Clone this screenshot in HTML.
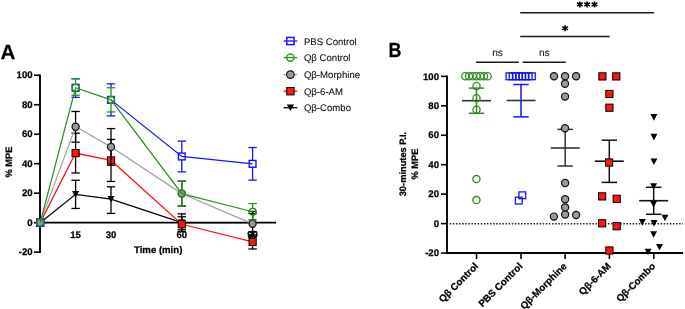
<!DOCTYPE html>
<html><head><meta charset="utf-8"><style>
html,body{margin:0;padding:0;background:#fff;}
svg{display:block;font-family:"Liberation Sans", sans-serif;will-change:transform;text-rendering:geometricPrecision;}
</style></head><body>
<svg width="685" height="309" viewBox="0 0 685 309">
<rect width="685" height="309" fill="#fff"/>
<text x="0.40" y="59.00" font-size="20.5" font-weight="bold" text-anchor="start" fill="#000" stroke="#000" stroke-width="0.25" >A</text>
<text x="32.60" y="78.45" font-size="9.6" font-weight="bold" text-anchor="end" fill="#000" stroke="#000" stroke-width="0.25" >100</text>
<text x="32.60" y="107.93" font-size="9.6" font-weight="bold" text-anchor="end" fill="#000" stroke="#000" stroke-width="0.25" >80</text>
<text x="32.60" y="137.41" font-size="9.6" font-weight="bold" text-anchor="end" fill="#000" stroke="#000" stroke-width="0.25" >60</text>
<text x="32.60" y="166.89" font-size="9.6" font-weight="bold" text-anchor="end" fill="#000" stroke="#000" stroke-width="0.25" >40</text>
<text x="32.60" y="196.37" font-size="9.6" font-weight="bold" text-anchor="end" fill="#000" stroke="#000" stroke-width="0.25" >20</text>
<text x="32.60" y="225.85" font-size="9.6" font-weight="bold" text-anchor="end" fill="#000" stroke="#000" stroke-width="0.25" >0</text>
<text x="32.60" y="255.33" font-size="9.6" font-weight="bold" text-anchor="end" fill="#000" stroke="#000" stroke-width="0.25" >-20</text>
<line x1="34.00" y1="75.25" x2="40.00" y2="75.25" stroke="#000" stroke-width="1.6" />
<line x1="34.00" y1="104.73" x2="40.00" y2="104.73" stroke="#000" stroke-width="1.6" />
<line x1="34.00" y1="134.21" x2="40.00" y2="134.21" stroke="#000" stroke-width="1.6" />
<line x1="34.00" y1="163.69" x2="40.00" y2="163.69" stroke="#000" stroke-width="1.6" />
<line x1="34.00" y1="193.17" x2="40.00" y2="193.17" stroke="#000" stroke-width="1.6" />
<line x1="34.00" y1="222.65" x2="40.00" y2="222.65" stroke="#000" stroke-width="1.6" />
<line x1="34.00" y1="252.13" x2="40.00" y2="252.13" stroke="#000" stroke-width="1.6" />
<line x1="40.00" y1="74.45" x2="40.00" y2="252.93" stroke="#000" stroke-width="1.9" />
<text x="0.00" y="0.00" font-size="9.3" font-weight="bold" text-anchor="middle" fill="#000" stroke="#000" stroke-width="0.25" transform="translate(11.9,162.0) rotate(-90)">% MPE</text>
<text x="75.60" y="238.40" font-size="9.6" font-weight="bold" text-anchor="middle" fill="#000" stroke="#000" stroke-width="0.25" >15</text>
<text x="111.00" y="238.40" font-size="9.6" font-weight="bold" text-anchor="middle" fill="#000" stroke="#000" stroke-width="0.25" >30</text>
<text x="181.80" y="238.40" font-size="9.6" font-weight="bold" text-anchor="middle" fill="#000" stroke="#000" stroke-width="0.25" >60</text>
<text x="252.60" y="238.40" font-size="9.6" font-weight="bold" text-anchor="middle" fill="#000" stroke="#000" stroke-width="0.25" >90</text>
<text x="158.20" y="252.90" font-size="9.6" font-weight="bold" text-anchor="middle" fill="#000" stroke="#000" stroke-width="0.25" >Time (min)</text>
<line x1="40.00" y1="222.65" x2="276.00" y2="222.65" stroke="#000" stroke-width="1.8" />
<polyline points="40.20,222.65 75.60,194.35 111.00,199.21 181.80,222.65 252.60,222.65" fill="none" stroke="#000" stroke-width="1.25"/>
<line x1="75.60" y1="180.25" x2="75.60" y2="208.45" stroke="#000" stroke-width="1.3" />
<line x1="71.40" y1="180.25" x2="79.80" y2="180.25" stroke="#000" stroke-width="1.3" />
<line x1="71.40" y1="208.45" x2="79.80" y2="208.45" stroke="#000" stroke-width="1.3" />
<line x1="111.00" y1="186.81" x2="111.00" y2="213.41" stroke="#000" stroke-width="1.3" />
<line x1="106.80" y1="186.81" x2="115.20" y2="186.81" stroke="#000" stroke-width="1.3" />
<line x1="106.80" y1="213.41" x2="115.20" y2="213.41" stroke="#000" stroke-width="1.3" />
<line x1="181.80" y1="213.85" x2="181.80" y2="231.45" stroke="#000" stroke-width="1.3" />
<line x1="177.60" y1="213.85" x2="186.00" y2="213.85" stroke="#000" stroke-width="1.3" />
<line x1="177.60" y1="231.45" x2="186.00" y2="231.45" stroke="#000" stroke-width="1.3" />
<line x1="252.60" y1="213.55" x2="252.60" y2="231.75" stroke="#000" stroke-width="1.3" />
<line x1="248.40" y1="213.55" x2="256.80" y2="213.55" stroke="#000" stroke-width="1.3" />
<line x1="248.40" y1="231.75" x2="256.80" y2="231.75" stroke="#000" stroke-width="1.3" />
<path d="M36.70,219.35 L43.70,219.35 L40.20,225.95 Z" fill="#000"/>
<path d="M72.10,191.05 L79.10,191.05 L75.60,197.65 Z" fill="#000"/>
<path d="M107.50,195.91 L114.50,195.91 L111.00,202.51 Z" fill="#000"/>
<path d="M178.30,219.35 L185.30,219.35 L181.80,225.95 Z" fill="#000"/>
<path d="M249.10,219.35 L256.10,219.35 L252.60,225.95 Z" fill="#000"/>
<polyline points="40.20,222.65 75.60,153.08 111.00,160.45 181.80,224.27 252.60,241.96" fill="none" stroke="#ff1414" stroke-width="1.25"/>
<line x1="75.60" y1="133.18" x2="75.60" y2="172.98" stroke="#000" stroke-width="1.3" />
<line x1="71.40" y1="133.18" x2="79.80" y2="133.18" stroke="#000" stroke-width="1.3" />
<line x1="71.40" y1="172.98" x2="79.80" y2="172.98" stroke="#000" stroke-width="1.3" />
<line x1="111.00" y1="139.45" x2="111.00" y2="181.45" stroke="#000" stroke-width="1.3" />
<line x1="106.80" y1="139.45" x2="115.20" y2="139.45" stroke="#000" stroke-width="1.3" />
<line x1="106.80" y1="181.45" x2="115.20" y2="181.45" stroke="#000" stroke-width="1.3" />
<line x1="181.80" y1="216.77" x2="181.80" y2="229.77" stroke="#000" stroke-width="1.3" />
<line x1="177.60" y1="216.77" x2="186.00" y2="216.77" stroke="#000" stroke-width="1.3" />
<line x1="177.60" y1="229.77" x2="186.00" y2="229.77" stroke="#000" stroke-width="1.3" />
<line x1="252.60" y1="234.96" x2="252.60" y2="248.96" stroke="#000" stroke-width="1.3" />
<line x1="248.40" y1="234.96" x2="256.80" y2="234.96" stroke="#000" stroke-width="1.3" />
<line x1="248.40" y1="248.96" x2="256.80" y2="248.96" stroke="#000" stroke-width="1.3" />
<rect x="36.60" y="219.05" width="7.20" height="7.20" fill="#ff1414" stroke="#000" stroke-width="1.0"/>
<rect x="72.00" y="149.48" width="7.20" height="7.20" fill="#ff1414" stroke="#000" stroke-width="1.0"/>
<rect x="107.40" y="156.85" width="7.20" height="7.20" fill="#ff1414" stroke="#000" stroke-width="1.0"/>
<rect x="178.20" y="220.67" width="7.20" height="7.20" fill="#ff1414" stroke="#000" stroke-width="1.0"/>
<rect x="249.00" y="238.36" width="7.20" height="7.20" fill="#ff1414" stroke="#000" stroke-width="1.0"/>
<polyline points="40.20,222.65 75.60,126.69 111.00,146.89 181.80,193.61 252.60,223.83" fill="none" stroke="#a6a6a6" stroke-width="1.25"/>
<line x1="75.60" y1="111.49" x2="75.60" y2="142.19" stroke="#000" stroke-width="1.3" />
<line x1="71.40" y1="111.49" x2="79.80" y2="111.49" stroke="#000" stroke-width="1.3" />
<line x1="71.40" y1="142.19" x2="79.80" y2="142.19" stroke="#000" stroke-width="1.3" />
<line x1="111.00" y1="128.59" x2="111.00" y2="165.19" stroke="#000" stroke-width="1.3" />
<line x1="106.80" y1="128.59" x2="115.20" y2="128.59" stroke="#000" stroke-width="1.3" />
<line x1="106.80" y1="165.19" x2="115.20" y2="165.19" stroke="#000" stroke-width="1.3" />
<line x1="181.80" y1="181.21" x2="181.80" y2="206.01" stroke="#000" stroke-width="1.3" />
<line x1="177.60" y1="181.21" x2="186.00" y2="181.21" stroke="#000" stroke-width="1.3" />
<line x1="177.60" y1="206.01" x2="186.00" y2="206.01" stroke="#000" stroke-width="1.3" />
<line x1="252.60" y1="211.43" x2="252.60" y2="236.23" stroke="#000" stroke-width="1.3" />
<line x1="248.40" y1="211.43" x2="256.80" y2="211.43" stroke="#000" stroke-width="1.3" />
<line x1="248.40" y1="236.23" x2="256.80" y2="236.23" stroke="#000" stroke-width="1.3" />
<circle cx="40.20" cy="222.65" r="3.60" fill="#999999" stroke="#111" stroke-width="1.2"/>
<circle cx="75.60" cy="126.69" r="3.60" fill="#999999" stroke="#111" stroke-width="1.2"/>
<circle cx="111.00" cy="146.89" r="3.60" fill="#999999" stroke="#111" stroke-width="1.2"/>
<circle cx="181.80" cy="193.61" r="3.60" fill="#999999" stroke="#111" stroke-width="1.2"/>
<circle cx="252.60" cy="223.83" r="3.60" fill="#999999" stroke="#111" stroke-width="1.2"/>
<polyline points="111.00,99.87 181.80,156.47 252.60,163.84" fill="none" stroke="#1414ff" stroke-width="1.25"/>
<line x1="75.60" y1="78.78" x2="75.60" y2="78.78" stroke="#1414ff" stroke-width="1.3" />
<line x1="75.60" y1="95.28" x2="75.60" y2="97.38" stroke="#1414ff" stroke-width="1.3" />
<line x1="71.40" y1="78.78" x2="79.80" y2="78.78" stroke="#1414ff" stroke-width="1.3" />
<line x1="71.40" y1="97.38" x2="79.80" y2="97.38" stroke="#1414ff" stroke-width="1.3" />
<line x1="111.00" y1="83.87" x2="111.00" y2="87.77" stroke="#1414ff" stroke-width="1.3" />
<line x1="111.00" y1="111.97" x2="111.00" y2="115.87" stroke="#1414ff" stroke-width="1.3" />
<line x1="106.80" y1="83.87" x2="115.20" y2="83.87" stroke="#1414ff" stroke-width="1.3" />
<line x1="106.80" y1="115.87" x2="115.20" y2="115.87" stroke="#1414ff" stroke-width="1.3" />
<line x1="181.80" y1="141.07" x2="181.80" y2="153.07" stroke="#1414ff" stroke-width="1.3" />
<line x1="181.80" y1="159.87" x2="181.80" y2="171.87" stroke="#1414ff" stroke-width="1.3" />
<line x1="177.60" y1="141.07" x2="186.00" y2="141.07" stroke="#1414ff" stroke-width="1.3" />
<line x1="177.60" y1="171.87" x2="186.00" y2="171.87" stroke="#1414ff" stroke-width="1.3" />
<line x1="252.60" y1="147.54" x2="252.60" y2="160.44" stroke="#1414ff" stroke-width="1.3" />
<line x1="252.60" y1="167.24" x2="252.60" y2="180.14" stroke="#1414ff" stroke-width="1.3" />
<line x1="248.40" y1="147.54" x2="256.80" y2="147.54" stroke="#1414ff" stroke-width="1.3" />
<line x1="248.40" y1="180.14" x2="256.80" y2="180.14" stroke="#1414ff" stroke-width="1.3" />
<rect x="36.80" y="219.25" width="6.80" height="6.80" fill="none" stroke="#1414ff" stroke-width="1.4"/>
<rect x="72.20" y="84.38" width="6.80" height="6.80" fill="none" stroke="#1414ff" stroke-width="1.4"/>
<rect x="107.60" y="96.47" width="6.80" height="6.80" fill="none" stroke="#1414ff" stroke-width="1.4"/>
<rect x="178.40" y="153.07" width="6.80" height="6.80" fill="none" stroke="#1414ff" stroke-width="1.4"/>
<rect x="249.20" y="160.44" width="6.80" height="6.80" fill="none" stroke="#1414ff" stroke-width="1.4"/>
<polyline points="40.20,222.65 75.60,87.78 111.00,99.87 181.80,193.61 252.60,211.74" fill="none" stroke="#2e8f20" stroke-width="1.25"/>
<line x1="75.60" y1="78.78" x2="75.60" y2="84.38" stroke="#2e8f20" stroke-width="1.3" />
<line x1="75.60" y1="91.18" x2="75.60" y2="95.28" stroke="#2e8f20" stroke-width="1.3" />
<line x1="71.40" y1="78.78" x2="79.80" y2="78.78" stroke="#2e8f20" stroke-width="1.3" />
<line x1="71.40" y1="95.28" x2="79.80" y2="95.28" stroke="#2e8f20" stroke-width="1.3" />
<line x1="111.00" y1="87.77" x2="111.00" y2="96.47" stroke="#2e8f20" stroke-width="1.3" />
<line x1="111.00" y1="103.27" x2="111.00" y2="111.97" stroke="#2e8f20" stroke-width="1.3" />
<line x1="106.80" y1="87.77" x2="115.20" y2="87.77" stroke="#2e8f20" stroke-width="1.3" />
<line x1="106.80" y1="111.97" x2="115.20" y2="111.97" stroke="#2e8f20" stroke-width="1.3" />
<line x1="181.80" y1="181.21" x2="181.80" y2="190.21" stroke="#2e8f20" stroke-width="1.3" />
<line x1="181.80" y1="197.01" x2="181.80" y2="206.01" stroke="#2e8f20" stroke-width="1.3" />
<line x1="177.60" y1="181.21" x2="186.00" y2="181.21" stroke="#2e8f20" stroke-width="1.3" />
<line x1="177.60" y1="206.01" x2="186.00" y2="206.01" stroke="#2e8f20" stroke-width="1.3" />
<line x1="252.60" y1="203.54" x2="252.60" y2="208.34" stroke="#2e8f20" stroke-width="1.3" />
<line x1="252.60" y1="215.14" x2="252.60" y2="219.94" stroke="#2e8f20" stroke-width="1.3" />
<line x1="248.40" y1="203.54" x2="256.80" y2="203.54" stroke="#2e8f20" stroke-width="1.3" />
<line x1="248.40" y1="219.94" x2="256.80" y2="219.94" stroke="#2e8f20" stroke-width="1.3" />
<circle cx="40.20" cy="222.65" r="3.40" fill="none" stroke="#2e8f20" stroke-width="1.4"/>
<circle cx="75.60" cy="87.78" r="3.40" fill="none" stroke="#2e8f20" stroke-width="1.4"/>
<circle cx="111.00" cy="99.87" r="3.40" fill="none" stroke="#2e8f20" stroke-width="1.4"/>
<circle cx="181.80" cy="193.61" r="3.40" fill="none" stroke="#2e8f20" stroke-width="1.4"/>
<circle cx="252.60" cy="211.74" r="3.40" fill="none" stroke="#2e8f20" stroke-width="1.4"/>
<line x1="283.60" y1="41.00" x2="297.30" y2="41.00" stroke="#1414ff" stroke-width="1.3" />
<rect x="286.80" y="37.40" width="7.20" height="7.20" fill="none" stroke="#1414ff" stroke-width="1.5"/>
<text x="303.90" y="44.50" font-size="9.6" font-weight="normal" text-anchor="start" fill="#111" stroke="#111" stroke-width="0.1" >PBS Control</text>
<line x1="283.60" y1="57.60" x2="297.30" y2="57.60" stroke="#2e8f20" stroke-width="1.3" />
<circle cx="290.40" cy="57.60" r="3.70" fill="none" stroke="#2e8f20" stroke-width="1.4"/>
<text x="303.90" y="61.00" font-size="9.6" font-weight="normal" text-anchor="start" fill="#111" stroke="#111" stroke-width="0.1" >Q&#946; Control</text>
<line x1="283.60" y1="74.60" x2="297.30" y2="74.60" stroke="#a6a6a6" stroke-width="1.3" />
<circle cx="290.40" cy="74.60" r="3.80" fill="#999999" stroke="#111" stroke-width="1.2"/>
<text x="303.90" y="78.00" font-size="9.6" font-weight="normal" text-anchor="start" fill="#111" stroke="#111" stroke-width="0.1" >Q&#946;-Morphine</text>
<line x1="283.60" y1="91.20" x2="297.30" y2="91.20" stroke="#ff1414" stroke-width="1.3" />
<rect x="286.70" y="87.50" width="7.40" height="7.40" fill="#ff1414" stroke="#000" stroke-width="1.0"/>
<text x="303.90" y="94.60" font-size="9.6" font-weight="normal" text-anchor="start" fill="#111" stroke="#111" stroke-width="0.1" >Q&#946;-6-AM</text>
<line x1="283.60" y1="107.70" x2="297.30" y2="107.70" stroke="#000" stroke-width="1.3" />
<path d="M286.80,104.50 L294.00,104.50 L290.40,110.90 Z" fill="#000"/>
<text x="303.90" y="110.80" font-size="9.6" font-weight="normal" text-anchor="start" fill="#111" stroke="#111" stroke-width="0.1" >Q&#946;-Combo</text>
<text x="0.00" y="0.00" font-size="20.5" font-weight="bold" text-anchor="start" fill="#000" stroke="#000" stroke-width="0.25" transform="translate(388.5,57.3) scale(0.87,1)">B</text>
<text x="439.00" y="79.55" font-size="9.6" font-weight="bold" text-anchor="end" fill="#000" stroke="#000" stroke-width="0.25" >100</text>
<line x1="441.00" y1="76.35" x2="447.00" y2="76.35" stroke="#000" stroke-width="1.6" />
<text x="439.00" y="109.00" font-size="9.6" font-weight="bold" text-anchor="end" fill="#000" stroke="#000" stroke-width="0.25" >80</text>
<line x1="441.00" y1="105.80" x2="447.00" y2="105.80" stroke="#000" stroke-width="1.6" />
<text x="439.00" y="138.45" font-size="9.6" font-weight="bold" text-anchor="end" fill="#000" stroke="#000" stroke-width="0.25" >60</text>
<line x1="441.00" y1="135.25" x2="447.00" y2="135.25" stroke="#000" stroke-width="1.6" />
<text x="439.00" y="167.90" font-size="9.6" font-weight="bold" text-anchor="end" fill="#000" stroke="#000" stroke-width="0.25" >40</text>
<line x1="441.00" y1="164.70" x2="447.00" y2="164.70" stroke="#000" stroke-width="1.6" />
<text x="439.00" y="197.35" font-size="9.6" font-weight="bold" text-anchor="end" fill="#000" stroke="#000" stroke-width="0.25" >20</text>
<line x1="441.00" y1="194.15" x2="447.00" y2="194.15" stroke="#000" stroke-width="1.6" />
<text x="439.00" y="226.80" font-size="9.6" font-weight="bold" text-anchor="end" fill="#000" stroke="#000" stroke-width="0.25" >0</text>
<line x1="441.00" y1="223.60" x2="447.00" y2="223.60" stroke="#000" stroke-width="1.6" />
<text x="439.00" y="256.25" font-size="9.6" font-weight="bold" text-anchor="end" fill="#000" stroke="#000" stroke-width="0.25" >-20</text>
<line x1="441.00" y1="253.05" x2="447.00" y2="253.05" stroke="#000" stroke-width="1.6" />
<line x1="447.00" y1="75.55" x2="447.00" y2="253.85" stroke="#000" stroke-width="1.9" />
<line x1="446.65" y1="223.80" x2="683.00" y2="223.80" stroke="#222" stroke-width="1.4" stroke-dasharray="1.5 1.6"/>
<line x1="446.00" y1="253.05" x2="683.00" y2="253.05" stroke="#000" stroke-width="1.9" />
<line x1="476.60" y1="253.05" x2="476.60" y2="259.00" stroke="#000" stroke-width="1.6" />
<line x1="521.00" y1="253.05" x2="521.00" y2="259.00" stroke="#000" stroke-width="1.6" />
<line x1="565.10" y1="253.05" x2="565.10" y2="259.00" stroke="#000" stroke-width="1.6" />
<line x1="609.40" y1="253.05" x2="609.40" y2="259.00" stroke="#000" stroke-width="1.6" />
<line x1="653.80" y1="253.05" x2="653.80" y2="259.00" stroke="#000" stroke-width="1.6" />
<text x="0.00" y="0.00" font-size="9.3" font-weight="bold" text-anchor="middle" fill="#000" stroke="#000" stroke-width="0.25" transform="translate(406.3,164.1) rotate(-90)">30-minutes P.I.</text>
<text x="0.00" y="0.00" font-size="9.3" font-weight="bold" text-anchor="middle" fill="#000" stroke="#000" stroke-width="0.25" transform="translate(418.4,164.1) rotate(-90)">% MPE</text>
<text x="0.00" y="0.00" font-size="9.8" font-weight="bold" text-anchor="end" fill="#000" stroke="#000" stroke-width="0.25" transform="translate(478.80,266.80) rotate(-45)">Q&#946; Control</text>
<text x="0.00" y="0.00" font-size="9.8" font-weight="bold" text-anchor="end" fill="#000" stroke="#000" stroke-width="0.25" transform="translate(523.20,266.80) rotate(-45)">PBS Control</text>
<text x="0.00" y="0.00" font-size="9.8" font-weight="bold" text-anchor="end" fill="#000" stroke="#000" stroke-width="0.25" transform="translate(567.30,266.80) rotate(-45)">Q&#946;-Morphine</text>
<text x="0.00" y="0.00" font-size="9.8" font-weight="bold" text-anchor="end" fill="#000" stroke="#000" stroke-width="0.25" transform="translate(611.60,266.80) rotate(-45)">Q&#946;-6-AM</text>
<text x="0.00" y="0.00" font-size="9.8" font-weight="bold" text-anchor="end" fill="#000" stroke="#000" stroke-width="0.25" transform="translate(656.00,266.80) rotate(-45)">Q&#946;-Combo</text>
<line x1="476.10" y1="62.30" x2="518.90" y2="62.30" stroke="#1a1a1a" stroke-width="1.5" />
<line x1="522.60" y1="62.30" x2="565.70" y2="62.30" stroke="#1a1a1a" stroke-width="1.5" />
<text x="497.60" y="56.20" font-size="10.2" font-weight="normal" text-anchor="middle" fill="#222" stroke="#222" stroke-width="0.1" >ns</text>
<text x="544.30" y="56.20" font-size="10.2" font-weight="normal" text-anchor="middle" fill="#222" stroke="#222" stroke-width="0.1" >ns</text>
<line x1="520.20" y1="36.60" x2="609.60" y2="36.60" stroke="#1a1a1a" stroke-width="1.5" />
<line x1="565.10" y1="25.30" x2="565.10" y2="31.20" stroke="#000" stroke-width="1.6" />
<line x1="562.24" y1="26.60" x2="567.96" y2="29.90" stroke="#000" stroke-width="1.6" />
<line x1="567.96" y1="26.60" x2="562.24" y2="29.90" stroke="#000" stroke-width="1.6" />
<line x1="520.20" y1="12.85" x2="654.10" y2="12.85" stroke="#1a1a1a" stroke-width="1.5" />
<line x1="579.80" y1="1.50" x2="579.80" y2="7.40" stroke="#000" stroke-width="1.6" />
<line x1="576.94" y1="2.80" x2="582.66" y2="6.10" stroke="#000" stroke-width="1.6" />
<line x1="582.66" y1="2.80" x2="576.94" y2="6.10" stroke="#000" stroke-width="1.6" />
<line x1="587.10" y1="1.50" x2="587.10" y2="7.40" stroke="#000" stroke-width="1.6" />
<line x1="584.24" y1="2.80" x2="589.96" y2="6.10" stroke="#000" stroke-width="1.6" />
<line x1="589.96" y1="2.80" x2="584.24" y2="6.10" stroke="#000" stroke-width="1.6" />
<line x1="594.50" y1="1.50" x2="594.50" y2="7.40" stroke="#000" stroke-width="1.6" />
<line x1="591.64" y1="2.80" x2="597.36" y2="6.10" stroke="#000" stroke-width="1.6" />
<line x1="597.36" y1="2.80" x2="591.64" y2="6.10" stroke="#000" stroke-width="1.6" />
<line x1="476.50" y1="88.10" x2="476.50" y2="113.30" stroke="#2e8f20" stroke-width="1.5" />
<line x1="468.80" y1="88.10" x2="484.20" y2="88.10" stroke="#2e8f20" stroke-width="1.5" />
<line x1="468.80" y1="113.30" x2="484.20" y2="113.30" stroke="#2e8f20" stroke-width="1.5" />
<line x1="462.00" y1="100.70" x2="491.00" y2="100.70" stroke="#333" stroke-width="1.6" />
<circle cx="465.30" cy="76.20" r="3.60" fill="none" stroke="#2e8f20" stroke-width="1.3"/>
<circle cx="469.03" cy="76.20" r="3.60" fill="none" stroke="#2e8f20" stroke-width="1.3"/>
<circle cx="472.76" cy="76.20" r="3.60" fill="none" stroke="#2e8f20" stroke-width="1.3"/>
<circle cx="476.49" cy="76.20" r="3.60" fill="none" stroke="#2e8f20" stroke-width="1.3"/>
<circle cx="480.22" cy="76.20" r="3.60" fill="none" stroke="#2e8f20" stroke-width="1.3"/>
<circle cx="483.95" cy="76.20" r="3.60" fill="none" stroke="#2e8f20" stroke-width="1.3"/>
<circle cx="487.68" cy="76.20" r="3.60" fill="none" stroke="#2e8f20" stroke-width="1.3"/>
<circle cx="476.50" cy="86.00" r="3.60" fill="none" stroke="#2e8f20" stroke-width="1.3"/>
<circle cx="476.50" cy="98.20" r="3.60" fill="none" stroke="#2e8f20" stroke-width="1.3"/>
<circle cx="476.50" cy="109.80" r="3.60" fill="none" stroke="#2e8f20" stroke-width="1.3"/>
<circle cx="476.40" cy="179.10" r="3.60" fill="none" stroke="#2e8f20" stroke-width="1.3"/>
<circle cx="476.40" cy="200.10" r="3.60" fill="none" stroke="#2e8f20" stroke-width="1.3"/>
<line x1="521.00" y1="84.50" x2="521.00" y2="116.90" stroke="#1414ff" stroke-width="1.5" />
<line x1="513.30" y1="84.50" x2="528.70" y2="84.50" stroke="#1414ff" stroke-width="1.5" />
<line x1="513.30" y1="116.90" x2="528.70" y2="116.90" stroke="#1414ff" stroke-width="1.5" />
<line x1="506.50" y1="100.50" x2="535.50" y2="100.50" stroke="#333" stroke-width="1.6" />
<rect x="506.05" y="72.90" width="6.80" height="6.80" fill="none" stroke="#1414ff" stroke-width="1.3"/>
<rect x="509.25" y="72.90" width="6.80" height="6.80" fill="none" stroke="#1414ff" stroke-width="1.3"/>
<rect x="512.45" y="72.90" width="6.80" height="6.80" fill="none" stroke="#1414ff" stroke-width="1.3"/>
<rect x="515.65" y="72.90" width="6.80" height="6.80" fill="none" stroke="#1414ff" stroke-width="1.3"/>
<rect x="518.85" y="72.90" width="6.80" height="6.80" fill="none" stroke="#1414ff" stroke-width="1.3"/>
<rect x="522.05" y="72.90" width="6.80" height="6.80" fill="none" stroke="#1414ff" stroke-width="1.3"/>
<rect x="525.25" y="72.90" width="6.80" height="6.80" fill="none" stroke="#1414ff" stroke-width="1.3"/>
<rect x="528.45" y="72.90" width="6.80" height="6.80" fill="none" stroke="#1414ff" stroke-width="1.3"/>
<rect x="518.90" y="191.90" width="6.80" height="6.80" fill="none" stroke="#1414ff" stroke-width="1.3"/>
<rect x="515.40" y="197.20" width="6.80" height="6.80" fill="none" stroke="#1414ff" stroke-width="1.3"/>
<line x1="565.20" y1="129.40" x2="565.20" y2="166.00" stroke="#333" stroke-width="1.5" />
<line x1="557.50" y1="129.40" x2="572.90" y2="129.40" stroke="#333" stroke-width="1.5" />
<line x1="557.50" y1="166.00" x2="572.90" y2="166.00" stroke="#333" stroke-width="1.5" />
<line x1="550.70" y1="148.00" x2="579.70" y2="148.00" stroke="#333" stroke-width="1.6" />
<circle cx="554.00" cy="76.20" r="3.60" fill="#999999" stroke="#111" stroke-width="1.2"/>
<circle cx="565.00" cy="76.20" r="3.60" fill="#999999" stroke="#111" stroke-width="1.2"/>
<circle cx="576.10" cy="76.20" r="3.60" fill="#999999" stroke="#111" stroke-width="1.2"/>
<circle cx="565.00" cy="83.70" r="3.60" fill="#999999" stroke="#111" stroke-width="1.2"/>
<circle cx="565.00" cy="96.60" r="3.60" fill="#999999" stroke="#111" stroke-width="1.2"/>
<circle cx="565.00" cy="128.20" r="3.60" fill="#999999" stroke="#111" stroke-width="1.2"/>
<circle cx="565.10" cy="183.00" r="3.60" fill="#999999" stroke="#111" stroke-width="1.2"/>
<circle cx="565.10" cy="199.30" r="3.60" fill="#999999" stroke="#111" stroke-width="1.2"/>
<circle cx="565.10" cy="207.40" r="3.60" fill="#999999" stroke="#111" stroke-width="1.2"/>
<circle cx="565.10" cy="214.50" r="3.60" fill="#999999" stroke="#111" stroke-width="1.2"/>
<circle cx="553.90" cy="216.60" r="3.60" fill="#999999" stroke="#111" stroke-width="1.2"/>
<circle cx="576.10" cy="215.00" r="3.60" fill="#999999" stroke="#111" stroke-width="1.2"/>
<line x1="609.30" y1="140.20" x2="609.30" y2="182.40" stroke="#111" stroke-width="1.5" />
<line x1="601.60" y1="140.20" x2="617.00" y2="140.20" stroke="#111" stroke-width="1.5" />
<line x1="601.60" y1="182.40" x2="617.00" y2="182.40" stroke="#111" stroke-width="1.5" />
<line x1="594.80" y1="161.20" x2="623.80" y2="161.20" stroke="#111" stroke-width="1.6" />
<rect x="598.80" y="72.80" width="7.20" height="7.20" fill="#ff1414" stroke="#000" stroke-width="1.0"/>
<rect x="612.70" y="72.80" width="7.20" height="7.20" fill="#ff1414" stroke="#000" stroke-width="1.0"/>
<rect x="605.80" y="90.40" width="7.20" height="7.20" fill="#ff1414" stroke="#000" stroke-width="1.0"/>
<rect x="605.80" y="104.10" width="7.20" height="7.20" fill="#ff1414" stroke="#000" stroke-width="1.0"/>
<rect x="598.50" y="192.80" width="7.20" height="7.20" fill="#ff1414" stroke="#000" stroke-width="1.0"/>
<rect x="613.10" y="195.20" width="7.20" height="7.20" fill="#ff1414" stroke="#000" stroke-width="1.0"/>
<rect x="598.50" y="219.70" width="7.20" height="7.20" fill="#ff1414" stroke="#000" stroke-width="1.0"/>
<rect x="613.10" y="222.60" width="7.20" height="7.20" fill="#ff1414" stroke="#000" stroke-width="1.0"/>
<rect x="605.80" y="246.90" width="7.20" height="7.20" fill="#ff1414" stroke="#000" stroke-width="1.0"/>
<rect x="605.50" y="158.90" width="7.20" height="7.20" fill="#ff1414" stroke="#000" stroke-width="1.0"/>
<line x1="653.70" y1="187.30" x2="653.70" y2="214.30" stroke="#111" stroke-width="1.5" />
<line x1="646.00" y1="187.30" x2="661.40" y2="187.30" stroke="#111" stroke-width="1.5" />
<line x1="646.00" y1="214.30" x2="661.40" y2="214.30" stroke="#111" stroke-width="1.5" />
<line x1="639.20" y1="200.70" x2="668.20" y2="200.70" stroke="#111" stroke-width="1.6" />
<path d="M650.45,114.10 L657.35,114.10 L653.90,120.70 Z" fill="#000"/>
<path d="M650.45,133.80 L657.35,133.80 L653.90,140.40 Z" fill="#000"/>
<path d="M650.45,158.40 L657.35,158.40 L653.90,165.00 Z" fill="#000"/>
<path d="M650.15,183.20 L657.05,183.20 L653.60,189.80 Z" fill="#000"/>
<path d="M650.15,201.00 L657.05,201.00 L653.60,207.60 Z" fill="#000"/>
<path d="M661.55,214.70 L668.45,214.70 L665.00,221.30 Z" fill="#000"/>
<path d="M638.85,219.10 L645.75,219.10 L642.30,225.70 Z" fill="#000"/>
<path d="M650.55,220.10 L657.45,220.10 L654.00,226.70 Z" fill="#000"/>
<path d="M650.15,231.20 L657.05,231.20 L653.60,237.80 Z" fill="#000"/>
<path d="M656.05,244.00 L662.95,244.00 L659.50,250.60 Z" fill="#000"/>
<path d="M644.65,248.70 L651.55,248.70 L648.10,255.30 Z" fill="#000"/>
</svg>
</body></html>
